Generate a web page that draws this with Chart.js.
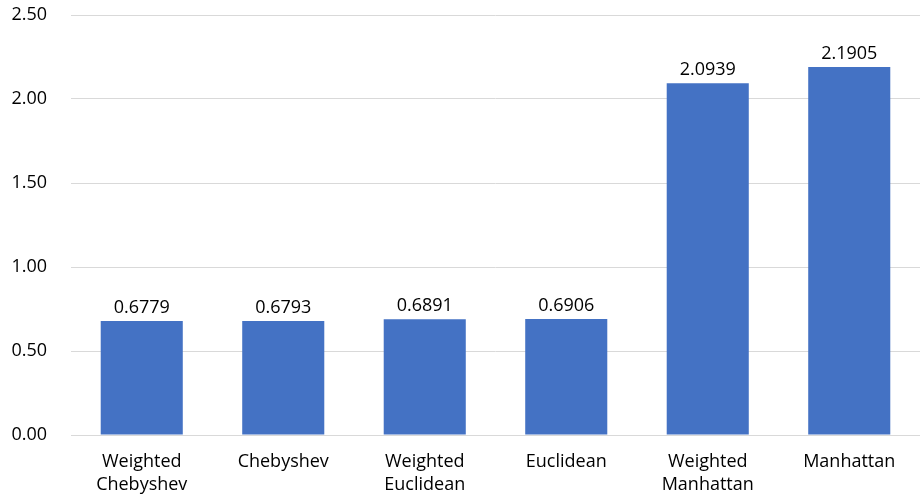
<!DOCTYPE html>
<html>
<head>
<meta charset="utf-8">
<script src="https://cdn.jsdelivr.net/npm/chart.js@4"></script>
<style>
html,body{margin:0;padding:0;background:#fff;}
#wrap{width:920px;height:496px;position:relative;}
</style>
</head>
<body>
<div id="wrap"><canvas id="c" width="920" height="496"></canvas></div>
<script>
const categories = [["Weighted","Chebyshev"],"Chebyshev",["Weighted","Euclidean"],"Euclidean",["Weighted","Manhattan"],"Manhattan"];
const values = [0.6779, 0.6793, 0.6891, 0.6906, 2.0939, 2.1905];
const valueLabels = ["0.6779","0.6793","0.6891","0.6906","2.0939","2.1905"];
const yTicks = [0, 0.5, 1.0, 1.5, 2.0, 2.5];

const FONT = "'Open Sans', Lato, sans-serif";

const labelPlugin = {
  id: 'valueLabels',
  afterDatasetsDraw(chart) {
    const ctx = chart.ctx;
    const meta = chart.getDatasetMeta(0);
    ctx.save();
    ctx.font = "18px " + FONT;
    ctx.fillStyle = "#000";
    ctx.textAlign = "center";
    ctx.textBaseline = "bottom";
    meta.data.forEach((bar, i) => {
      ctx.fillText(valueLabels[i], bar.x, bar.y - 4);
    });
    ctx.restore();
  }
};

new Chart(document.getElementById('c'), {
  type: 'bar',
  data: {
    labels: categories,
    datasets: [{
      data: values,
      backgroundColor: '#4472C4',
      borderWidth: 0,
      categoryPercentage: 1.0,
      barPercentage: 0.58
    }]
  },
  options: {
    responsive: false,
    animation: false,
    devicePixelRatio: 1,
    layout: { padding: { top: 15, right: 0, left: 0, bottom: 0 } },
    plugins: { legend: { display: false }, tooltip: { enabled: false } },
    scales: {
      y: {
        min: 0, max: 2.5,
        afterBuildTicks(scale) { scale.ticks = yTicks.map(v => ({ value: v })); },
        afterFit(scale) { scale.width = 71; scale.paddingTop = 0; scale.paddingBottom = 0; },
        ticks: {
          callback: v => Number(v).toFixed(2),
          font: { family: FONT, size: 18 },
          color: '#000',
          padding: 24
        },
        grid: { color: '#d9d9d9', drawTicks: false, lineWidth: 1 },
        border: { display: false }
      },
      x: {
        afterFit(scale) { scale.height = 61; scale.paddingLeft = 0; scale.paddingRight = 0; },
        ticks: {
          font: { family: FONT, size: 18, lineHeight: 1.28 },
          color: '#000',
          padding: 15,
          maxRotation: 0,
          autoSkip: false
        },
        grid: { display: false, drawTicks: false },
        border: { display: true, color: '#d9d9d9' }
      }
    }
  },
  plugins: [labelPlugin]
});
</script>
</body>
</html>
